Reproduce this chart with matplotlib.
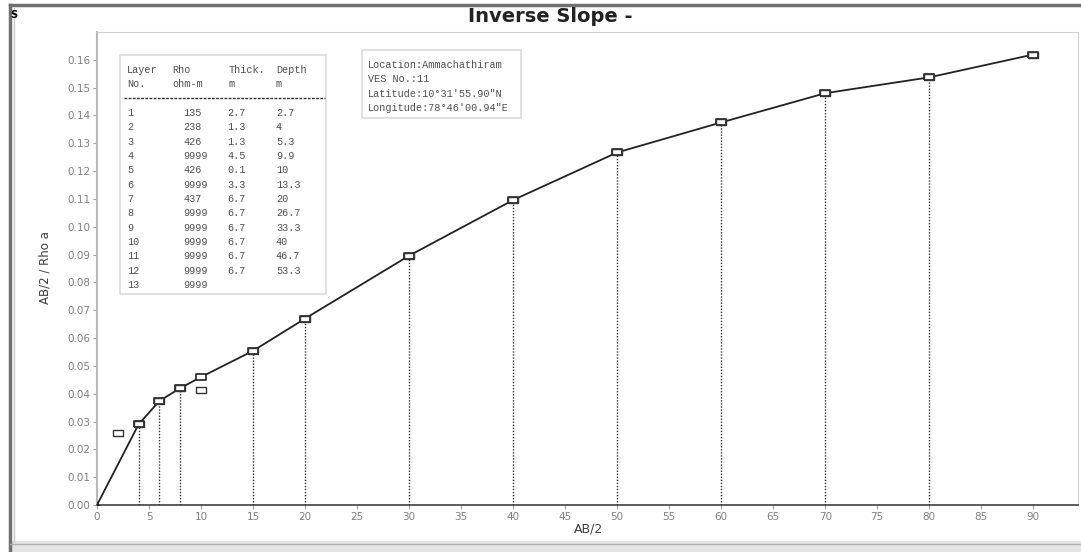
import matplotlib
matplotlib.use("Agg")
import matplotlib.pyplot as plt
from matplotlib.lines import Line2D
from matplotlib.patches import Rectangle

# observed apparent resistivity points (AB/2 vs AB/2 / Rho a)
obs_x = [2, 4, 6, 8, 10, 15, 20, 30, 40, 50, 60, 70, 80, 90]
obs_y = [0.026, 0.029, 0.0375, 0.042, 0.0415, 0.0555, 0.067, 0.0895,
         0.1095, 0.1267, 0.1375, 0.148, 0.1537, 0.1619]

# calculated curve
calc_x = [0, 4, 6, 8, 10, 15, 20, 30, 40, 50, 60, 70, 80, 90]
calc_y = [0.0, 0.029, 0.0374, 0.042, 0.046, 0.0554, 0.067, 0.0896,
          0.1096, 0.1267, 0.1375, 0.148, 0.1537, 0.1619]

# positions with vertical drop lines
drop_x = [4, 6, 8, 15, 20, 30, 40, 50, 60, 70, 80]
drop_y = [0.029, 0.0374, 0.042, 0.0554, 0.067, 0.0896, 0.1096, 0.1267,
          0.1375, 0.148, 0.1537]

xticks = list(range(0, 95, 5))
yticks = [i / 100 for i in range(0, 17)]

layer_no = ["1", "2", "3", "4", "5", "6", "7", "8", "9", "10", "11", "12", "13"]
layer_rho = ["135", "238", "426", "9999", "426", "9999", "437", "9999",
             "9999", "9999", "9999", "9999", "9999"]
layer_thick = ["2.7", "1.3", "1.3", "4.5", "0.1", "3.3", "6.7", "6.7",
               "6.7", "6.7", "6.7", "6.7", ""]
layer_depth = ["2.7", "4", "5.3", "9.9", "10", "13.3", "20", "26.7",
               "33.3", "40", "46.7", "53.3", ""]

info_lines = ["Location:Ammachathiram", "VES No.:11",
              "Latitude:10°31'55.90\"N", "Longitude:78°46'00.94\"E"]

W, H = 1081, 552


def fx(px):
    return px / W


def fy(py):
    return 1 - py / H


fig = plt.figure(figsize=(W / 100, H / 100), dpi=100)
fig.patch.set_facecolor("white")

# window frame
fig.add_artist(Line2D([fx(10), 1], [fy(5), fy(5)], color="#707070", lw=2.5))
fig.add_artist(Line2D([fx(10), fx(10)], [fy(5), 0], color="#707070", lw=2.5))
fig.add_artist(Line2D([fx(14), fx(14)], [fy(8), fy(541)], color="#c8c8c8", lw=1))
fig.add_artist(Rectangle((fx(10), 0), 1, fy(541), color="#e4e4e4", lw=0))
fig.add_artist(Line2D([fx(10), 1], [fy(544), fy(544)], color="#b0b0b0", lw=1))
fig.text(fx(10), fy(15), "S", fontsize=7, fontweight="bold", ha="left", va="center")

fig.text(fx(550), fy(17), "Inverse Slope -", fontsize=14, fontweight="bold",
         ha="center", va="center", color="#222222", family="DejaVu Sans")

ax = fig.add_axes([fx(97), fy(505), fx(1078) - fx(97), fy(32) - fy(505)])
ax.set_xlim(0, 94.3)
ax.set_ylim(0, 0.17)

ax.vlines(drop_x, 0, drop_y, colors="#303030", linestyles=(0, (1, 1.2)), lw=1)
ax.plot(calc_x, calc_y, color="#222222", lw=1.3, zorder=3)

box = [(-1.3, -1), (1.3, -1), (1.3, 1), (-1.3, 1), (-1.3, -1)]
ax.plot(calc_x[1:], calc_y[1:], ls="none", marker=box, ms=6.5, mfc="white",
        mec="#222222", mew=1.2, zorder=4)
ax.plot(obs_x, obs_y, ls="none", marker=box, ms=6.5, mfc="none",
        mec="#333333", mew=1, zorder=5)
ax.plot([0], [0], ls="none", marker="^", ms=4, color="#222222", zorder=5)

ax.set_xticks(xticks)
ax.set_yticks(yticks)
ax.set_yticklabels([f"{v:.2f}" for v in yticks])
ax.tick_params(length=3, color="#a0a0a0", labelsize=7.5, labelcolor="#808080", pad=2)
for side in ["left", "top", "right"]:
    ax.spines[side].set_color("#d0d0d0")
ax.spines["left"].set_color("#b8b8b8")
ax.spines["left"].set_linewidth(1.5)
ax.spines["bottom"].set_color("#404040")
ax.spines["bottom"].set_linewidth(1.2)

fig.text(fx(589), fy(529), "AB/2", fontsize=9, ha="center", va="center",
         color="#404040")
fig.text(fx(45), fy(268), "AB/2 / Rho a", fontsize=8.5, ha="center", va="center",
         rotation=90, color="#404040")

# layer table
mono = dict(family="Liberation Mono", fontsize=7.3, color="#505050", va="center")
fig.add_artist(Rectangle((fx(120), fy(294)), fx(326) - fx(120), fy(55) - fy(294),
                         fill=False, ec="#dcdcdc", lw=1.2))
fig.text(fx(127), fy(70), "Layer", **mono)
fig.text(fx(127), fy(84), "No.", **mono)
fig.text(fx(172), fy(70), "Rho", **mono)
fig.text(fx(172), fy(84), "ohm-m", **mono)
fig.text(fx(229), fy(70), "Thick.", **mono)
fig.text(fx(229), fy(84), "m", **mono)
fig.text(fx(276), fy(70), "Depth", **mono)
fig.text(fx(276), fy(84), "m", **mono)
fig.add_artist(Line2D([fx(124), fx(325)], [fy(98), fy(98)], color="#303030",
                      lw=1, ls=(0, (2, 1))))
for i in range(len(layer_no)):
    y = fy(113 + i * 14.33)
    fig.text(fx(127), y, layer_no[i], **mono)
    fig.text(fx(183), y, layer_rho[i], **mono)
    fig.text(fx(227), y, layer_thick[i], **mono)
    fig.text(fx(276), y, layer_depth[i], **mono)

# location box
fig.add_artist(Rectangle((fx(362), fy(118)), fx(521) - fx(362), fy(50) - fy(118),
                         fill=False, ec="#dcdcdc", lw=1.2))
for i, line in enumerate(info_lines):
    fig.text(fx(368), fy(65 + i * 14.3), line, **mono)

fig.savefig("out.png", dpi=100)
